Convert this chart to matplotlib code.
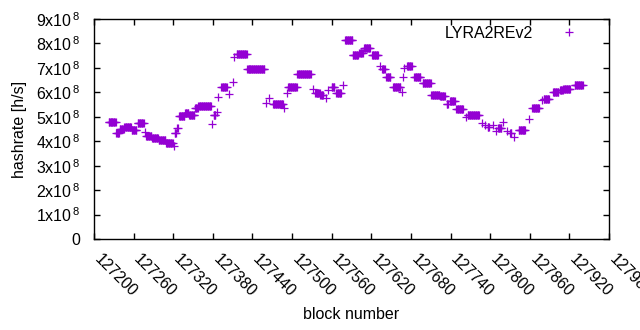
import numpy as np
import matplotlib
matplotlib.use('Agg')
import matplotlib.pyplot as plt
import matplotlib.transforms as mtransforms
from matplotlib.ticker import FuncFormatter, MultipleLocator

plt.rcParams['font.family'] = ['Liberation Sans', 'DejaVu Sans']
plt.rcParams['mathtext.fontset'] = 'custom'
plt.rcParams['mathtext.rm'] = 'Liberation Sans'

# runs of blocks that share one hashrate reading (first block, last block, value in 1e8 h/s)
run_first = [127222, 127234, 127239, 127246, 127257, 127266, 127277, 127279, 127288, 127298,
             127309, 127321, 127322, 127326, 127329, 127338, 127344, 127353, 127358, 127379,
             127381, 127387, 127388, 127393, 127404, 127411, 127412, 127416, 127432, 127460,
             127465, 127471, 127488, 127492, 127494, 127508, 127531, 127535, 127543, 127551,
             127555, 127560, 127567, 127577, 127580, 127592, 127602, 127609, 127621, 127633,
             127636, 127643, 127653, 127667, 127668, 127670, 127674, 127685, 127698, 127711,
             127724, 127734, 127739, 127749, 127763, 127766, 127787, 127792, 127796, 127804,
             127809, 127812, 127820, 127826, 127830, 127836, 127843, 127859, 127864, 127878,
             127881, 127895, 127906, 127911, 127928]
run_last = [127233, 127238, 127245, 127256, 127264, 127275, 127277, 127287, 127297, 127308,
            127319, 127321, 127324, 127327, 127337, 127343, 127352, 127357, 127377, 127379,
            127384, 127387, 127388, 127401, 127404, 127411, 127412, 127431, 127458, 127460,
            127465, 127486, 127488, 127492, 127507, 127528, 127531, 127542, 127547, 127551,
            127555, 127564, 127574, 127577, 127591, 127600, 127607, 127618, 127630, 127633,
            127640, 127649, 127664, 127667, 127668, 127670, 127681, 127694, 127710, 127723,
            127731, 127736, 127746, 127759, 127763, 127783, 127787, 127792, 127798, 127804,
            127809, 127817, 127820, 127826, 127832, 127836, 127853, 127859, 127874, 127878,
            127889, 127903, 127910, 127921, 127940]
run_hashrate = [4.77, 4.32, 4.49, 4.57, 4.46, 4.73, 4.38, 4.21, 4.12, 4.04,
                3.92, 3.81, 4.32, 4.54, 5.02, 5.17, 5.06, 5.35, 5.44, 4.69,
                5.07, 5.21, 5.82, 6.23, 5.92, 6.44, 7.46, 7.56, 6.94, 5.58,
                5.76, 5.51, 5.35, 5.96, 6.21, 6.74, 6.12, 5.96, 5.89, 5.78,
                6.10, 6.21, 5.96, 6.30, 8.13, 7.52, 7.60, 7.83, 7.52, 7.08,
                6.94, 6.62, 6.21, 6.03, 6.62, 6.98, 7.08, 6.62, 6.37, 5.90,
                5.86, 5.52, 5.65, 5.31, 4.98, 5.06, 4.73, 4.66, 4.60, 4.66,
                4.43, 4.53, 4.80, 4.43, 4.32, 4.19, 4.46, 4.92, 5.35, 5.69,
                5.74, 6.00, 6.10, 6.14, 6.29]

FS = 11.5


def main():
    blocks = np.concatenate([np.arange(a, b + 1) for a, b in zip(run_first, run_last)])
    rates = np.concatenate([np.full(b - a + 1, v * 1e8)
                            for a, b, v in zip(run_first, run_last, run_hashrate)])

    fig = plt.figure(figsize=(6.4, 3.3), dpi=100)
    ax = fig.add_axes([94 / 640, 1 - 239 / 330, (609 - 94) / 640, (239 - 19) / 330])

    ax.plot(blocks, rates, linestyle='none', marker='+', markersize=5.5,
            markeredgewidth=0.9, color='#9400d3', label='LYRA2REv2')

    ax.set_xlim(127200, 127980)
    ax.set_ylim(0, 9e8)
    ax.xaxis.set_major_locator(MultipleLocator(60))
    ax.yaxis.set_major_locator(MultipleLocator(1e8))
    ax.yaxis.set_major_formatter(FuncFormatter(
        lambda v, pos: '0' if v == 0 else '%dx10$^{\\,8}$' % round(v / 1e8)))

    ax.tick_params(direction='in', length=4.5, width=1, top=True, right=True,
                   labelsize=FS, colors='black')
    ax.tick_params(axis='x', pad=9)
    ax.tick_params(axis='y', pad=10)
    shift = mtransforms.ScaledTranslation(8 / 100, 0, fig.dpi_scale_trans)
    for lbl in ax.get_xticklabels():
        lbl.set_rotation(-45)
        lbl.set_rotation_mode('anchor')
        lbl.set_ha('left')
        lbl.set_va('top')
        lbl.set_transform(lbl.get_transform() + shift)
    for s in ax.spines.values():
        s.set_linewidth(1)

    ax.set_xlabel('block number', fontsize=FS, labelpad=5)
    ax.set_ylabel('hashrate [h/s]', fontsize=FS, labelpad=6)

    ax.legend(loc='upper right', bbox_to_anchor=(0.9736, 0.997), borderaxespad=0,
              frameon=False, markerfirst=False, fontsize=FS,
              handlelength=2.5, handletextpad=1.0)

    plt.savefig('out.png', dpi=100)


if __name__ == '__main__':
    main()
